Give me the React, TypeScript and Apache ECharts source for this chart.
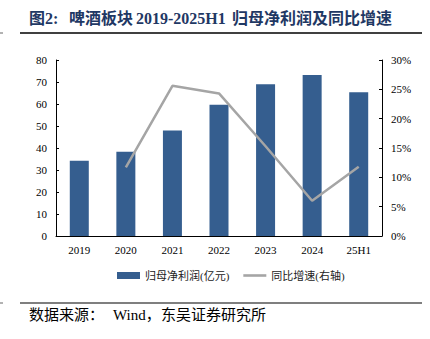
import React, { useEffect, useRef } from "react";
import * as echarts from "echarts";

const categories = ["2019", "2020", "2021", "2022", "2023", "2024", "25H1"];
const profit = [34.2, 38.3, 47.9, 59.7, 69.0, 73.2, 65.3];
const growth = [null, 11.7, 25.6, 24.3, 15.3, 6.0, 11.8];
const leftTicks = { min: 0, max: 80, interval: 10 };
const rightTicks = { min: 0, max: 30, interval: 5 };

const serif = "'Liberation Serif', 'Times New Roman', serif";
const cjk = "'Liberation Serif', 'Noto Sans CJK SC', serif";

const titleColor = "#1F3864";

function txt(x: number, y: number, text: string, font: string, fill: string) {
  return {
    type: "text",
    x,
    y,
    style: { text, font, fill, textVerticalAlign: "middle", verticalAlign: "middle" },
  };
}

export default function App() {
  const ref = useRef<HTMLDivElement>(null);
  useEffect(() => {
    const chart = echarts.init(ref.current!, null, { renderer: "svg" });
    const tFont = `bold 16px ${cjk}`;
    const sFont = `15px ${cjk}`;
    chart.setOption({
      animation: false,
      backgroundColor: "#fff",
      grid: { left: 56, right: 48, top: 60, bottom: 103 },
      graphic: [
        txt(29, 18, "图2:", tFont, titleColor),
        txt(69, 18, "啤酒板块", tFont, titleColor),
        txt(136, 18, "2019-2025H1", tFont, titleColor),
        txt(232, 18, "归母净利润及同比增速", tFont, titleColor),
        { type: "line", shape: { x1: 20, y1: 33, x2: 422, y2: 33 }, style: { stroke: "#000", lineWidth: 1.5 } },
        { type: "line", shape: { x1: 0, y1: 33, x2: 3, y2: 33 }, style: { stroke: "#666", lineWidth: 1 } },
        { type: "line", shape: { x1: 20, y1: 303, x2: 422, y2: 303 }, style: { stroke: "#000", lineWidth: 1.2 } },
        { type: "line", shape: { x1: 0, y1: 303, x2: 3, y2: 303 }, style: { stroke: "#666", lineWidth: 1 } },
        txt(29, 315, "数据来源：", sFont, "#000"),
        txt(113, 315, "Wind，", sFont, "#000"),
        txt(161, 315, "东吴证券研究所", sFont, "#000"),
      ],
      legend: {
        left: 112,
        top: 265,
        itemWidth: 23,
        itemHeight: 7,
        itemGap: 14,
        textStyle: { fontFamily: cjk, fontSize: 11, color: "#222" },
        data: [
          { name: "归母净利润(亿元)", icon: "rect" },
          {
            name: "同比增速(右轴)",
            icon: "path://M0,0L0,0M0,7L0,7M0,2.2L23,2.2L23,4.8L0,4.8Z",
            itemStyle: { color: "#A5A5A5" },
          },
        ],
      },
      xAxis: {
        type: "category",
        data: categories,
        axisLine: { lineStyle: { color: "#000", width: 1 } },
        axisTick: { show: false },
        axisLabel: { color: "#000", fontFamily: serif, fontSize: 11, margin: 8 },
      },
      yAxis: [
        {
          type: "value",
          ...leftTicks,
          splitLine: { show: false },
          axisLine: { show: true, lineStyle: { color: "#000" } },
          axisTick: { show: true, inside: true, length: 3, lineStyle: { color: "#000" } },
          axisLabel: { color: "#000", fontFamily: serif, fontSize: 11, margin: 9 },
        },
        {
          type: "value",
          ...rightTicks,
          position: "right",
          splitLine: { show: false },
          axisLine: { show: true, lineStyle: { color: "#000" } },
          axisTick: { show: true, inside: true, length: 3, lineStyle: { color: "#000" } },
          axisLabel: { color: "#000", fontFamily: serif, fontSize: 11, margin: 9, formatter: "{value}%" },
        },
      ],
      series: [
        {
          name: "归母净利润(亿元)",
          type: "bar",
          data: profit,
          barWidth: 19,
          itemStyle: { color: "#355E8F" },
        },
        {
          name: "同比增速(右轴)",
          type: "line",
          yAxisIndex: 1,
          data: growth,
          symbol: "none",
          lineStyle: { color: "#A5A5A5", width: 2.5 },
          itemStyle: { color: "#A5A5A5" },
        },
      ],
    });
    return () => chart.dispose();
  }, []);
  return (
    <div
      ref={ref}
      style={{ position: "fixed", left: 0, top: 0, width: 430, height: 339 }}
    />
  );
}
